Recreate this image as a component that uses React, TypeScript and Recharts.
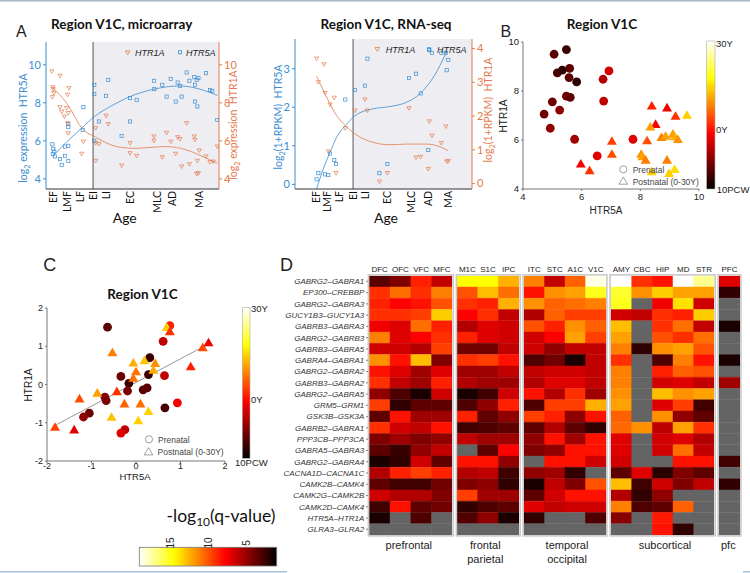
import React from 'react';
import {
  ComposedChart, ScatterChart, BarChart, Scatter, Line, Bar, Cell,
  XAxis, YAxis, ReferenceArea, ReferenceLine,
} from 'recharts';

// ---------------- Panel A data ----------------
const AGE_LABELS = ['EF', 'LMF', 'LF', 'EI', 'LI', 'EC', 'MLC', 'AD', 'MA'];
const MICRO_AGE_POS = [4.6, 12.7, 19.7, 27.2, 34.7, 48.6, 64.2, 73.4, 89.0];
const RNA_AGE_POS = [11.9, 18.6, 24.9, 32.8, 40.1, 52.0, 66.1, 75.7, 87.0];
const MICRO_POSTNATAL = 27.2;
const RNA_POSTNATAL = 32.8;

const microHTR5A: [number, number][] = [
  [3.7, 5.82], [4.2, 5.58], [4.8, 5.44], [3.9, 5.32], [5.2, 5.18], [8.1, 5.04], [9.1, 4.74], [11.0, 5.21],
  [12.9, 4.95], [11.0, 5.70], [12.9, 5.74], [12.9, 6.72], [12.9, 6.88], [21.6, 7.77], [21.2, 6.58], [27.9, 8.95],
  [27.9, 8.47], [27.9, 6.0], [30.6, 7.02], [34.7, 8.37], [36.0, 9.21], [43.7, 6.26], [48.6, 7.02], [48.6, 8.25],
  [52.4, 8.16], [62.4, 9.16], [62.6, 8.72], [67.2, 8.95], [69.7, 8.33], [72.1, 9.26], [75.0, 8.07], [76.1, 9.07],
  [77.5, 8.89], [78.4, 8.33], [81.3, 9.6], [82.9, 9.16], [85.7, 9.35], [86.1, 8.95], [87.1, 9.21], [88.1, 9.3],
  [86.1, 8.07], [87.5, 7.81], [92.5, 9.56], [94.8, 8.68], [96.1, 8.63], [99.0, 7.1],
];
const microHTR1A: [number, number][] = [
  [3.3, 9.65], [3.9, 8.82], [4.2, 8.72], [4.6, 8.51], [3.7, 8.3], [8.1, 9.42], [13.3, 8.77], [12.5, 8.42],
  [8.1, 7.77], [9.1, 7.54], [10.6, 7.28], [11.9, 7.72], [12.9, 7.46], [12.5, 6.93], [12.9, 6.4], [21.6, 5.96],
  [20.6, 5.32], [28.7, 6.67], [28.7, 5.88], [28.7, 4.95], [30.6, 5.84], [34.7, 7.32], [36.0, 6.88], [43.7, 4.7],
  [48.6, 5.88], [48.6, 5.35], [52.4, 5.21], [62.4, 6.23], [62.4, 6.0], [67.2, 5.14], [69.7, 6.42], [72.1, 5.96],
  [75.0, 5.32], [76.1, 6.19], [77.5, 6.09], [78.4, 4.65], [81.3, 6.93], [82.9, 4.77], [85.7, 6.23], [86.1, 6.05],
  [87.5, 4.95], [87.1, 4.26], [88.1, 4.3], [88.6, 5.49], [92.5, 5.18], [94.8, 4.88], [96.7, 4.91], [99.0, 5.7],
];
const microFit5A: [number, number][] = [
  [3.7, 5.18], [12, 5.95], [20.6, 6.67], [28, 7.28], [38, 7.85], [48.6, 8.33], [62.4, 8.72], [77.5, 8.89], [89, 8.72], [99, 8.39],
];
const microFit1A: [number, number][] = [
  [3.7, 8.82], [12, 7.98], [21.6, 6.58], [28, 6.23], [40.8, 5.7], [50.5, 5.61], [69.7, 5.7], [81, 5.53], [90, 5.2], [99, 4.82],
];

const rnaHTR5A: [number, number][] = [
  [12.2, 0.13], [13.2, 0.29], [17.0, 0.26], [18.8, 0.24], [19.8, 0.80], [22.2, 0.63], [23.2, 0.53], [28.4, 2.20],
  [33.9, 2.45], [39.5, 2.56], [40.9, 3.26], [47.7, 0.29], [52.2, 0.53], [64.4, 2.76], [68.4, 2.87], [71.0, 2.36],
  [75.3, 0.89], [75.9, 3.48], [77.4, 3.41], [82.7, 3.41], [85.3, 3.41], [85.7, 2.96], [86.6, 3.23],
];
const rnaHTR1A: [number, number][] = [
  [12.2, 3.70], [16.4, 3.53], [13.2, 3.0], [17.0, 2.68], [19.8, 2.34], [22.2, 2.54], [18.8, 0.95], [23.2, 0.31],
  [28.4, 1.64], [33.9, 2.16], [39.5, 2.49], [40.9, 2.16], [47.7, 0.06], [52.2, 0.31], [64.4, 2.23], [68.4, 0.77],
  [71.0, 0.79], [75.9, 1.84], [77.4, 1.42], [75.3, 0.43], [82.7, 1.2], [85.3, 1.69], [85.7, 0.65], [86.6, 0.67],
];
const rnaFit5A: [number, number][] = [
  [12.2, -0.12], [15.9, 0.39], [19.8, 0.83], [23.5, 1.22], [28.4, 1.52], [33.9, 1.78], [44.2, 1.96], [53.7, 2.02],
  [63.1, 2.13], [70.6, 2.35], [78.2, 2.78], [85.7, 3.44],
];
const rnaFit1A: [number, number][] = [
  [12.2, 3.18], [17.9, 2.56], [23.5, 2.01], [28.4, 1.72], [33.9, 1.47], [44.2, 1.22], [53.7, 1.15], [63.1, 1.17],
  [74.4, 1.17], [81.9, 1.09], [86.6, 0.97],
];

// ---------------- Panel B / C data: [HTR5A, HTR1A, age position on colorbar 0..1] ----------------
const bPrenatal: [number, number, number][] = [
  [5.06, 9.5, 0.132], [5.48, 9.69, 0.086], [5.17, 8.74, 0.109], [5.34, 8.85, 0.062], [5.59, 8.92, 0.132],
  [5.57, 8.55, 0.132], [5.83, 8.37, 0.062], [5.48, 7.79, 0.165], [5.61, 7.74, 0.14], [5.0, 7.56, 0.165],
  [4.72, 7.06, 0.165], [5.25, 7.22, 0.21], [4.93, 6.48, 0.21], [5.76, 6.03, 0.235], [6.93, 8.82, 0.31],
  [6.73, 8.48, 0.26], [6.75, 7.59, 0.28], [6.53, 5.35, 0.33], [7.75, 6.03, 0.33],
];
const bPostnatal: [number, number, number][] = [
  [5.97, 5.03, 0.36], [6.27, 4.76, 0.45], [7.03, 5.96, 0.47], [7.03, 5.43, 0.49], [8.39, 7.4, 0.42],
  [8.91, 7.32, 0.35], [8.52, 6.65, 0.37], [9.2, 6.98, 0.445], [9.59, 7.02, 0.68], [8.34, 6.54, 0.61],
  [8.23, 5.98, 0.49], [8.72, 6.11, 0.56], [8.86, 6.17, 0.61], [9.11, 6.25, 0.61], [9.17, 6.14, 0.63],
  [9.28, 6.03, 0.59], [8.03, 5.43, 0.59], [8.07, 5.33, 0.61], [8.18, 5.19, 0.56], [8.91, 5.19, 0.56],
  [9.17, 4.81, 0.7], [8.98, 4.65, 0.68], [8.39, 4.72, 0.68],
];
const cPrenatal: [number, number, number][] = [
  [-0.64, 1.5, 0.132], [0.76, 1.54, 0.42], [0.61, 1.13, 0.282], [0.31, 0.7, 0.086], [-0.34, 0.21, 0.156],
  [-0.16, 0.03, 0.086], [0.28, 0.26, 0.086], [0.64, 0.23, 0.282], [-0.19, -0.17, 0.18], [0.16, -0.14, 0.132],
  [0.25, -0.09, 0.132], [-0.7, -0.33, 0.2], [-0.67, -0.42, 0.18], [-1.05, -0.75, 0.156], [-1.18, -0.85, 0.21],
  [0.93, -0.48, 0.36], [0.65, -0.61, 0.109], [-0.25, -1.18, 0.282], [-0.34, -1.27, 0.33],
];
const cPostnatal: [number, number, number][] = [
  [-1.82, -1.11, 0.47], [-1.39, -1.18, 0.33], [-1.27, -0.37, 0.49], [-0.87, -0.22, 0.61], [-0.53, 0.84, 0.56],
  [-0.55, -0.85, 0.66], [-0.43, -0.18, 0.445], [-0.26, -0.5, 0.52], [-0.06, 0.57, 0.63], [-0.06, 0.17, 0.54],
  [0.0, 0.34, 0.54], [0.1, -0.5, 0.54], [0.05, -0.94, 0.68], [0.19, 0.63, 0.66], [0.28, -0.7, 0.68],
  [0.43, 0.56, 0.59], [0.39, 0.38, 0.63], [0.69, 1.5, 0.68], [0.76, 1.39, 0.445], [1.23, 0.47, 0.42],
  [1.5, 0.97, 0.49], [1.63, 1.1, 0.36],
];
const cFitLine: [number, number][] = [[-1.82, -1.07], [1.63, 1.06]];

// ---------------- Panel D data: -log10(q-value), null = not available ----------------
const PAIRS = [
  'GABRG2–GABRA1', 'EP300–CREBBP', 'GABRG2–GABRA3', 'GUCY1B3–GUCY1A3', 'GABRB3–GABRA3', 'GABRG2–GABRB3',
  'GABRB3–GABRA5', 'GABRA4–GABRA1', 'GABRG2–GABRA2', 'GABRB3–GABRA2', 'GABRG2–GABRA5', 'GRM5–GRM1',
  'GSK3B–GSK3A', 'GABRB2–GABRA1', 'PPP3CB–PPP3CA', 'GABRA5–GABRA3', 'GABRG2–GABRA4', 'CACNA1D–CACNA1C',
  'CAMK2B–CAMK4', 'CAMK2G–CAMK2B', 'CAMK2D–CAMK4', 'HTR5A–HTR1A', 'GLRA3–GLRA2',
];
const PREFRONTAL_COLS = ['DFC', 'OFC', 'VFC', 'MFC'];
const FRONTAL_PARIETAL_COLS = ['M1C', 'S1C', 'IPC'];
const TEMPORAL_OCCIPITAL_COLS = ['ITC', 'STC', 'A1C', 'V1C'];
const SUBCORTICAL_COLS = ['AMY', 'CBC', 'HIP', 'MD', 'STR'];
const PFC_COLS = ['PFC'];

type Q = number | null;
const prefrontalQ: Q[][] = [
  [3.4, 4.4, 8.6, 6.1], [9.0, 10.7, 9.0, 11.1], [8.6, 7.75, 8.2, 9.9], [9.0, 9.0, 9.4, 13.2],
  [7.4, 6.9, 10.7, 8.6], [11.1, 6.9, 7.75, 9.0], [6.5, 6.5, 5.7, 9.4], [11.6, 8.2, 12.8, 4.4],
  [8.2, 6.9, 5.2, 6.9], [9.0, 6.1, 5.2, 8.6], [4.8, 3.0, 1.7, 6.5], [9.4, 2.3, 3.5, 3.5],
  [3.5, 8.2, 5.2, 5.2], [9.0, 6.5, 6.1, 8.2], [4.4, 5.2, 4.4, 4.8], [3.5, 2.5, 4.8, 6.1],
  [1.7, 2.3, 6.5, 3.5], [5.7, 8.6, 9.4, 8.6], [3.5, 2.7, 2.7, 4.0], [6.5, 5.7, 5.7, 4.4],
  [2.7, 8.2, 3.5, 4.0], [1.7, null, 3.1, null], [null, null, null, null],
];
const frontalParietalQ: Q[][] = [
  [14.5, 14.5, 12.4], [9.9, 12.8, 10.7], [9.0, 8.6, 12.4], [7.75, 9.0, 6.1], [5.7, 6.9, 6.5],
  [8.6, 6.9, 6.5], [4.0, 4.0, 6.1], [9.0, 9.4, 8.2], [5.2, 5.2, 6.1], [5.7, 5.2, 5.2],
  [1.7, 2.7, 6.5], [3.1, 4.8, 8.6], [8.6, 3.5, 4.8], [2.7, 3.1, 3.5], [6.1, 5.2, 5.2],
  [null, 3.5, 7.75], [8.2, 8.2, 4.8], [5.7, 6.1, 2.7], [4.4, 4.8, 2.3], [9.4, 5.2, 5.2],
  [2.3, 3.1, 3.5], [3.1, 4.8, 1.7], [null, null, null],
];
const temporalOccipitalQ: Q[][] = [
  [11.1, 6.1, 10.3, 18.5], [8.2, 11.6, 12.0, 15.0], [11.6, 10.3, 10.7, 11.1], [5.7, 10.3, 9.4, 9.4],
  [9.9, 8.6, 11.6, 10.3], [6.5, 7.75, 12.0, 9.4], [6.5, 4.8, 6.1, 6.1], [3.1, 4.0, 1.7, 6.1],
  [6.1, 6.5, 6.5, 6.1], [5.7, 6.9, 6.9, 6.1], [8.2, 5.7, 9.0, 5.2], [3.1, 9.4, 9.4, 12.4],
  [9.4, 8.6, 4.8, 8.2], [3.5, 5.7, 3.5, 2.3], [4.8, 8.2, 5.2, 8.2], [4.4, 4.8, 8.2, 8.2],
  [null, 8.2, 8.2, 6.5], [4.8, 5.2, 2.3, null], [1.7, 6.1, 4.4, 9.9], [3.5, 6.5, 8.2, 8.2],
  [6.9, 6.1, 6.5, 6.5], [2.3, null, null, 3.1], [null, null, null, null],
];
const subcorticalQ: Q[][] = [
  [19, 9.0, 8.2, 19, 17], [15.3, 11.6, 13.2, 12.0, 12.0], [15.0, null, 7.4, 13.7, 6.5],
  [6.5, 6.1, 9.0, 8.6, 13.2], [12.8, null, 9.0, 10.7, 6.1], [12.0, null, 9.9, 9.0, 10.7],
  [11.1, 2.3, 11.6, 12.0, 9.9], [9.0, null, 3.1, 11.1, 8.2], [11.1, null, 8.6, 10.3, 9.9],
  [11.1, null, 6.5, 6.9, 6.1], [11.6, null, 12.8, 11.6, 12.0], [12.0, null, 6.9, 9.4, 2.7],
  [10.3, null, 11.6, 4.8, 3.5], [10.5, 11.6, 6.0, 12.0, 9.0], [6.9, null, 6.5, 6.9, 5.7],
  [6.9, null, 6.5, 10.7, 6.1], [6.5, null, null, 8.2, 8.2], [3.5, 6.9, 2.1, 4.4, 3.5],
  [12.8, 2.7, 6.5, 4.4, 6.1], [5.7, 2.3, 4.8, null, null], [11.1, 3.1, 3.5, 10.3, null],
  [4.6, null, 8.4, null, null], [null, null, 8.2, 2.3, null],
];
const pfcQ: Q[][] = [
  [6.9], [2.3], [null], [null], [1.7], [null], [null], [1.7], [null], [5.2], [null], [null],
  [null], [null], [null], [null], [2.7], [null], [2.3], [null], [null], [null], [null],
];
const Q_MIN = 1;
const Q_MAX = 19;
const Q_TICKS = [15, 10, 5];

// ---------------- styles ----------------
const BLUE = '#3b8dd0';
const ORANGE = '#e27a4e';
const FONT = '"Liberation Sans", Arial, sans-serif';
const TFONT = 'Lato, "Open Sans", sans-serif';
const NA_GRAY = '#646464';

const hot = (t: number) => {
  const c = Math.max(0, Math.min(1, t));
  const r = Math.min(1, c / 0.375);
  const g = Math.max(0, Math.min(1, (c - 0.375) / 0.375));
  const b = Math.max(0, Math.min(1, (c - 0.75) / 0.25));
  const h = (x: number) => Math.round(x * 255);
  return `rgb(${h(r)},${h(g)},${h(b)})`;
};
const heatColor = (v: Q) => (v == null ? NA_GRAY : hot((v - Q_MIN) / (Q_MAX - Q_MIN)));

const xy = (a: [number, number][]) => a.map(([x, y]) => ({ x, y }));
const xyc = (a: [number, number, number][]) => a.map(([x, y, c]) => ({ x, y, c }));

const openSquare = (p: any) => (
  <rect x={p.cx - 1.6} y={p.cy - 1.6} width={3.2} height={3.2} fill="none" stroke={BLUE} strokeWidth={0.7} />
);
const openTriDown = (p: any) => (
  <path d={`M${p.cx - 2.1},${p.cy - 1.6} L${p.cx + 2.1},${p.cy - 1.6} L${p.cx},${p.cy + 2} Z`} fill="none" stroke={ORANGE} strokeWidth={0.7} />
);
const ageCircle = (p: any) => <circle cx={p.cx} cy={p.cy} r={4.4} fill={hot(p.payload.c)} />;
const ageTri = (p: any) => (
  <path d={`M${p.cx},${p.cy - 4.8} L${p.cx + 5},${p.cy + 3.8} L${p.cx - 5},${p.cy + 3.8} Z`} fill={hot(p.payload.c)} />
);

// ---------------- Panel A chart ----------------
function AgePanel(props: any) {
  const { left, top, marginTop, leftW, rightW, lDomain, rDomain, lTicks, rTicks, agePos, post, h5, h1, f5, f1 } = props;
  const ageTick = (p: any) => {
    const i = agePos.indexOf(p.payload.value);
    return (
      <text transform={`translate(${p.x + 3.5},${p.y - 3}) rotate(-90)`} textAnchor="end" fontSize={10.5} fontFamily={TFONT} fill="#111">
        {AGE_LABELS[i]}
      </text>
    );
  };
  return (
    <div style={{ position: 'absolute', left, top }}>
      <ComposedChart width={250} height={200} margin={{ top: marginTop, right: 0, bottom: 0, left: 0 }}>
        <XAxis type="number" dataKey="x" domain={[0, 100]} ticks={agePos} interval={0} allowDataOverflow height={41}
          stroke="#333" tickLine={false} tickSize={3} tick={ageTick} />
        <YAxis yAxisId="l" type="number" dataKey="y" domain={lDomain} ticks={lTicks} allowDataOverflow width={leftW}
          stroke={BLUE} tickSize={3} tick={{ fill: BLUE, fontSize: 11, fontFamily: TFONT }} />
        <YAxis yAxisId="r" orientation="right" type="number" dataKey="y" domain={rDomain} ticks={rTicks} allowDataOverflow
          width={rightW} stroke={ORANGE} tickSize={3} tick={{ fill: ORANGE, fontSize: 11, fontFamily: TFONT }} />
        <ReferenceArea yAxisId="l" x1={post} x2={100} fill="#eeeef2" fillOpacity={1} stroke="none" ifOverflow="hidden" />
        <ReferenceLine yAxisId="l" x={post} stroke="#555" strokeWidth={1} />
        <Line yAxisId="l" data={xy(f5)} dataKey="y" type="monotone" stroke={BLUE} strokeWidth={0.8} dot={false} isAnimationActive={false} />
        <Line yAxisId="r" data={xy(f1)} dataKey="y" type="monotone" stroke={ORANGE} strokeWidth={0.8} dot={false} isAnimationActive={false} />
        <Scatter yAxisId="l" data={xy(h5)} shape={openSquare} isAnimationActive={false} />
        <Scatter yAxisId="r" data={xy(h1)} shape={openTriDown} isAnimationActive={false} />
      </ComposedChart>
    </div>
  );
}

// ---------------- Panel B/C chart ----------------
function AgeScatter(props: any) {
  const { left, top, width, height, margin, yW, xH, domain, ticks, pre, post, fit, fs, tm } = props;
  const tickStyle = { fill: '#222', fontSize: fs, fontFamily: FONT };
  return (
    <div style={{ position: 'absolute', left, top }}>
      <ScatterChart width={width} height={height} margin={margin}>
        <XAxis type="number" dataKey="x" domain={domain} ticks={ticks} interval={0} allowDataOverflow height={xH}
          stroke="#777" tickSize={2} tickMargin={tm} tick={tickStyle} />
        <YAxis type="number" dataKey="y" domain={domain} ticks={ticks} interval={0} allowDataOverflow width={yW}
          stroke="#777" tickSize={2} tick={tickStyle} />
        {fit && (
          <ReferenceLine segment={fit.map(([x, y]: [number, number]) => ({ x, y }))} stroke="#999" strokeWidth={1} />
        )}
        <Scatter data={xyc(pre)} shape={ageCircle} isAnimationActive={false} />
        <Scatter data={xyc(post)} shape={ageTri} isAnimationActive={false} />
      </ScatterChart>
    </div>
  );
}

// ---------------- Panel D heatmap group ----------------
const HEAT_TOP = 255;
const HEAT_H = 282;
function HeatGroup({ cols, vals, left, width, labelW }: any) {
  const data = cols.map((c: string) => {
    const o: any = { col: c };
    vals.forEach((_: any, i: number) => { o['r' + i] = 1; });
    return o;
  });
  const n = vals.length;
  return (
    <div style={{ position: 'absolute', left, top: HEAT_TOP }}>
      <BarChart width={width} height={HEAT_H} data={data} margin={{ top: 6.7, right: 0, bottom: 2, left: 0 }}
        barCategoryGap={0} barGap={0}>
        <XAxis dataKey="col" orientation="top" axisLine={false} tickLine={false} height={14} interval={0}
          tickSize={2} tickMargin={2} tick={{ fontSize: 8, fill: '#222', fontFamily: FONT }} />
        <YAxis type="number" domain={[0, n]} reversed allowDataOverflow hide={!labelW} width={labelW || 0}
          ticks={PAIRS.map((_, i) => i + 0.5)} interval={0} tickFormatter={(v: number) => PAIRS[Math.floor(v)]}
          axisLine={false} tickSize={3} stroke="#555"
          tick={{ fontSize: 8, fontStyle: 'italic', fill: '#333', fontFamily: FONT }} />
        {vals.map((row: Q[], i: number) => (
          <Bar key={i} dataKey={'r' + i} stackId="s" isAnimationActive={false}>
            {row.map((v, j) => (
              <Cell key={j} fill={heatColor(v)} stroke={heatColor(v)} strokeWidth={0.4} />
            ))}
          </Bar>
        ))}
      </BarChart>
    </div>
  );
}

// ---------------- text helpers ----------------
const Txt = ({ x, y, children, size = 10, anchor = 'start', color = '#222', family = FONT, weight = 400, italic = false }: any) => (
  <text x={x} y={y} fontSize={size} textAnchor={anchor} fill={color} fontFamily={family} fontWeight={weight}
    fontStyle={italic ? 'italic' : 'normal'}>{children}</text>
);
const VLog2 = ({ x, y, color, post, size = 10.5 }: any) => (
  <text transform={`translate(${x},${y}) rotate(-90)`} textAnchor="middle" fill={color} fontSize={size} fontFamily={TFONT}
    style={{ whiteSpace: 'pre' }}>
    <tspan>log</tspan><tspan dy={3} fontSize={size * 0.7}>2</tspan><tspan dy={-3}>{post}</tspan>
  </text>
);
const VTxt = ({ x, y, children, size = 10, color = '#222', family = FONT }: any) => (
  <text transform={`translate(${x},${y}) rotate(-90)`} textAnchor="middle" fill={color} fontSize={size} fontFamily={family}>{children}</text>
);

const legendTri = (cx: number, cy: number) => `M${cx},${cy - 4} L${cx + 4.3},${cy + 3.2} L${cx - 4.3},${cy + 3.2} Z`;

export default function App() {
  const qx = (v: number) => 139.3 + ((Q_MAX - v) / (Q_MAX - Q_MIN)) * 137.4;
  return (
    <div style={{ position: 'absolute', left: 0, top: 0, width: 750, height: 573, background: '#fff', overflow: 'hidden' }}>
      <AgePanel left={0} top={30} marginTop={12} leftW={46} rightW={31} lDomain={[3.47, 11.2]} rDomain={[3.47, 11.2]}
        lTicks={[4, 6, 8, 10]} rTicks={[4, 6, 8, 10]} agePos={MICRO_AGE_POS} post={MICRO_POSTNATAL}
        h5={microHTR5A} h1={microHTR1A} f5={microFit5A} f1={microFit1A} />
      <AgePanel left={250} top={30} marginTop={9} leftW={45} rightW={28} lDomain={[-0.12, 3.77]} rDomain={[-0.16, 4.28]}
        lTicks={[0, 1, 2, 3]} rTicks={[0, 1, 2, 3, 4]} agePos={RNA_AGE_POS} post={RNA_POSTNATAL}
        h5={rnaHTR5A} h1={rnaHTR1A} f5={rnaFit5A} f1={rnaFit1A} />
      <AgeScatter left={500} top={30} width={250} height={200} margin={{ top: 12, right: 51, bottom: 0, left: 0 }}
        yW={23} xH={41} domain={[4, 10]} ticks={[4, 6, 8, 10]} pre={bPrenatal} post={bPostnatal} fs={9.5} tm={2} />
      <AgeScatter left={0} top={290} width={260} height={200} margin={{ top: 18, right: 35, bottom: 0, left: 0 }}
        yW={47} xH={29} domain={[-2, 2]} ticks={[-2, -1, 0, 1, 2]} pre={cPrenatal} post={cPostnatal} fit={cFitLine}
        fs={9} tm={0} />

      <HeatGroup cols={PREFRONTAL_COLS} vals={prefrontalQ} left={260} width={192.3} labelW={109.3} />
      <HeatGroup cols={FRONTAL_PARIETAL_COLS} vals={frontalParietalQ} left={457.3} width={62} />
      <HeatGroup cols={TEMPORAL_OCCIPITAL_COLS} vals={temporalOccipitalQ} left={524} width={82} />
      <HeatGroup cols={SUBCORTICAL_COLS} vals={subcorticalQ} left={611} width={103.3} />
      <HeatGroup cols={PFC_COLS} vals={pfcQ} left={719} width={21} />

      <svg width={750} height={573} style={{ position: 'absolute', left: 0, top: 0, pointerEvents: 'none' }}>
        <defs>
          <linearGradient id="ageBar" x1="0" y1="1" x2="0" y2="0">
            <stop offset="0" stopColor={hot(0)} />
            <stop offset="0.375" stopColor={hot(0.375)} />
            <stop offset="0.75" stopColor={hot(0.75)} />
            <stop offset="1" stopColor={hot(1)} />
          </linearGradient>
          <linearGradient id="qBar" x1="0" y1="0" x2="1" y2="0">
            <stop offset="0" stopColor={hot(1)} />
            <stop offset="0.25" stopColor={hot(0.75)} />
            <stop offset="0.625" stopColor={hot(0.375)} />
            <stop offset="1" stopColor={hot(0)} />
          </linearGradient>
        </defs>
        <rect x={0} y={0} width={750} height={1.5} fill="#a9b6c6" />
        <rect x={0} y={571} width={287} height={1.5} fill="#a6c2dc" />
        <rect x={743} y={571} width={7} height={1.5} fill="#a6c2dc" />

        {/* Panel A */}
        <Txt x={16} y={36.5} size={16}>A</Txt>
        <Txt x={121.7} y={29} size={13.5} anchor="middle" family={TFONT} weight={700} color="#111">Region V1C, microarray</Txt>
        <path d={`M125.4,50.9 L130,50.9 L127.7,54.7 Z`} fill="none" stroke={ORANGE} strokeWidth={0.8} />
        <Txt x={135} y={55.5} size={9} italic>HTR1A</Txt>
        <rect x={178.4} y={50.7} width={3.2} height={3.2} fill="none" stroke={BLUE} strokeWidth={0.8} />
        <Txt x={186} y={55.5} size={9} italic>HTR5A</Txt>
        <VLog2 x={27} y={128} color={BLUE} post=" expression  HTR5A" />
        <VLog2 x={237} y={125} color={ORANGE} post=" expression  HTR1A" />
        <Txt x={124.7} y={223} size={14} anchor="middle" family={TFONT} color="#111">Age</Txt>

        <Txt x={386} y={29} size={13.5} anchor="middle" family={TFONT} weight={700} color="#111">Region V1C, RNA-seq</Txt>
        <path d={`M375,47.5 L379.6,47.5 L377.3,51.3 Z`} fill="none" stroke={ORANGE} strokeWidth={0.8} />
        <Txt x={385.7} y={52.5} size={9} italic>HTR1A</Txt>
        <rect x={427.4} y={47.7} width={3.2} height={3.2} fill="none" stroke={BLUE} strokeWidth={0.8} />
        <Txt x={437} y={52.5} size={9} italic>HTR5A</Txt>
        <VLog2 x={282} y={117} color={BLUE} post="(1+RPKM)  HTR5A" />
        <VLog2 x={492} y={110} color={ORANGE} post="(1+RPKM)  HTR1A" />
        <Txt x={386} y={223} size={14} anchor="middle" family={TFONT} color="#111">Age</Txt>

        {/* Panel B */}
        <Txt x={500.5} y={36.5} size={16}>B</Txt>
        <Txt x={602} y={29} size={13.5} anchor="middle" family={TFONT} weight={700} color="#111">Region V1C</Txt>
        <Txt x={606} y={213.5} size={10} anchor="middle">HTR5A</Txt>
        <VTxt x={507} y={116} size={10}>HTR1A</VTxt>
        <rect x={706.7} y={41} width={8.3} height={148} fill="url(#ageBar)" stroke="#aaa" strokeWidth={0.6} />
        <Txt x={716} y={46.5} size={9.5}>30Y</Txt>
        <Txt x={716} y={133.3} size={9.5}>0Y</Txt>
        <Txt x={716.7} y={193.3} size={9.5}>10PCW</Txt>
        <circle cx={623.3} cy={169.3} r={3.6} fill="none" stroke="#888" strokeWidth={0.8} />
        <Txt x={632.7} y={172.5} size={8.5} color="#444">Prenatal</Txt>
        <path d={legendTri(623.3, 181)} fill="none" stroke="#888" strokeWidth={0.8} />
        <Txt x={632.7} y={184.5} size={8.5} color="#444">Postnatal (0-30Y)</Txt>

        {/* Panel C */}
        <Txt x={43.3} y={270.7} size={18}>C</Txt>
        <Txt x={142.5} y={299} size={13.5} anchor="middle" family={TFONT} weight={700} color="#111">Region V1C</Txt>
        <Txt x={135} y={480} size={9.5} anchor="middle">HTR5A</Txt>
        <VTxt x={32} y={385} size={10}>HTR1A</VTxt>
        <rect x={242.3} y={307.7} width={7.7} height={150.6} fill="url(#ageBar)" stroke="#aaa" strokeWidth={0.6} />
        <Txt x={251} y={311.7} size={9.5}>30Y</Txt>
        <Txt x={251} y={402.7} size={9.5}>0Y</Txt>
        <Txt x={235} y={466} size={9.5}>10PCW</Txt>
        <circle cx={149} cy={439.3} r={3.6} fill="none" stroke="#888" strokeWidth={0.8} />
        <Txt x={158} y={442.5} size={8.5} color="#444">Prenatal</Txt>
        <path d={legendTri(148.5, 451.7)} fill="none" stroke="#888" strokeWidth={0.8} />
        <Txt x={157.5} y={455} size={8.5} color="#444">Postnatal (0-30Y)</Txt>

        {/* q-value colorbar */}
        <text x={221} y={521.5} textAnchor="middle" fontSize={17.5} fontFamily={TFONT} fill="#111">
          <tspan>-log</tspan><tspan dy={4} fontSize={12}>10</tspan><tspan dy={-4}>(q-value)</tspan>
        </text>
        <rect x={139.3} y={547.3} width={137.4} height={18.7} fill="url(#qBar)" stroke="#777" strokeWidth={0.8} />
        {Q_TICKS.map((v) => (
          <text key={v} transform={`translate(${qx(v) + 3.7},${543}) rotate(-90)`} textAnchor="middle" fontSize={10}
            fontFamily={FONT} fill="#222">{v}</text>
        ))}

        {/* Panel D */}
        <Txt x={280} y={270.7} size={18}>D</Txt>
        {[
          [369.3, 83], [457.3, 62], [524, 82], [611, 103.3], [719, 21],
        ].map(([x, w], i) => (
          <rect key={i} x={x - 0.9} y={274.8} width={w + 1.8} height={261.1} fill="none" stroke="#c9c9c9" strokeWidth={1.6} />
        ))}
        <Txt x={408.8} y={549} size={11} anchor="middle">prefrontal</Txt>
        <Txt x={485.3} y={549} size={11} anchor="middle">frontal</Txt>
        <Txt x={485.3} y={563} size={11} anchor="middle">parietal</Txt>
        <Txt x={567} y={549} size={11} anchor="middle">temporal</Txt>
        <Txt x={567} y={563} size={11} anchor="middle">occipital</Txt>
        <Txt x={665} y={549} size={11} anchor="middle">subcortical</Txt>
        <Txt x={728.3} y={549} size={11} anchor="middle">pfc</Txt>
      </svg>
    </div>
  );
}
